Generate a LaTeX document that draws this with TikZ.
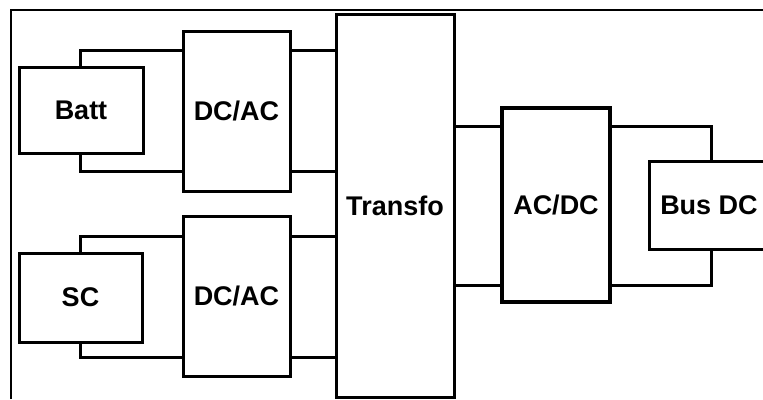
\documentclass[tikz,border=0pt]{standalone}
\usepackage{fontspec}
\setmainfont{Liberation Sans}
\begin{document}
\begin{tikzpicture}[x=1pt,y=-1pt,
  blk/.style={draw,line width=3pt,rectangle,inner sep=0pt,outer sep=0pt,anchor=north west,
    font=\fontsize{27}{32}\selectfont\bfseries},
  wire/.style={line width=3pt,line cap=rect}]
\useasboundingbox (0,0) rectangle (763,399);
\clip (0,0) rectangle (763,399);
\fill[white] (0,0) rectangle (763,399);
\draw[line width=1.6pt] (11,399) -- (11,10) -- (763,10);
% blocks
\node[blk,minimum width=124pt,minimum height=86pt] (batt) at (19,67) {Batt};
\node[blk,minimum width=107pt,minimum height=160pt] (dc1) at (183,31) {DC/AC};
\node[blk,minimum width=123pt,minimum height=89pt] (sc) at (19,253) {SC};
\node[blk,minimum width=107pt,minimum height=160pt] (dc2) at (183,216) {DC/AC};
\node[blk,minimum width=118pt,minimum height=383pt] (tr) at (336,14) {Transfo};
\node[blk,minimum width=108pt,minimum height=194pt,line width=3.5pt] (acdc) at (502,108) {AC/DC};
\node[blk,minimum width=120pt,minimum height=88pt] (bus) at (649,161) {Bus DC};
% wires Batt - DC/AC
\draw[wire] ([xshift=61pt]batt.north west) |- ([yshift=-19pt]dc1.north west);
\draw[wire] ([xshift=61pt]batt.south west) |- ([yshift=20pt]dc1.south west);
\draw[wire] ([yshift=-19pt]dc1.north east) -- ([yshift=-19pt]dc1.north east -| tr.west);
\draw[wire] ([yshift=20pt]dc1.south east) -- ([yshift=20pt]dc1.south east -| tr.west);
% wires SC - DC/AC
\draw[wire] ([xshift=61pt]sc.north west) |- ([yshift=-20pt]dc2.north west);
\draw[wire] ([xshift=61pt]sc.south west) |- ([yshift=19pt]dc2.south west);
\draw[wire] ([yshift=-20pt]dc2.north east) -- ([yshift=-20pt]dc2.north east -| tr.west);
\draw[wire] ([yshift=19pt]dc2.south east) -- ([yshift=19pt]dc2.south east -| tr.west);
% wires Transfo - AC/DC
\draw[wire] ([yshift=-18pt]acdc.north west -| tr.east) -- ([yshift=-18pt]acdc.north west);
\draw[wire] ([yshift=17pt]acdc.south west -| tr.east) -- ([yshift=17pt]acdc.south west);
% wires AC/DC - Bus DC
\draw[wire] ([yshift=-18pt]acdc.north east) -| ([xshift=62pt]bus.north west);
\draw[wire] ([yshift=17pt]acdc.south east) -| ([xshift=62pt]bus.south west);
\end{tikzpicture}
\end{document}
